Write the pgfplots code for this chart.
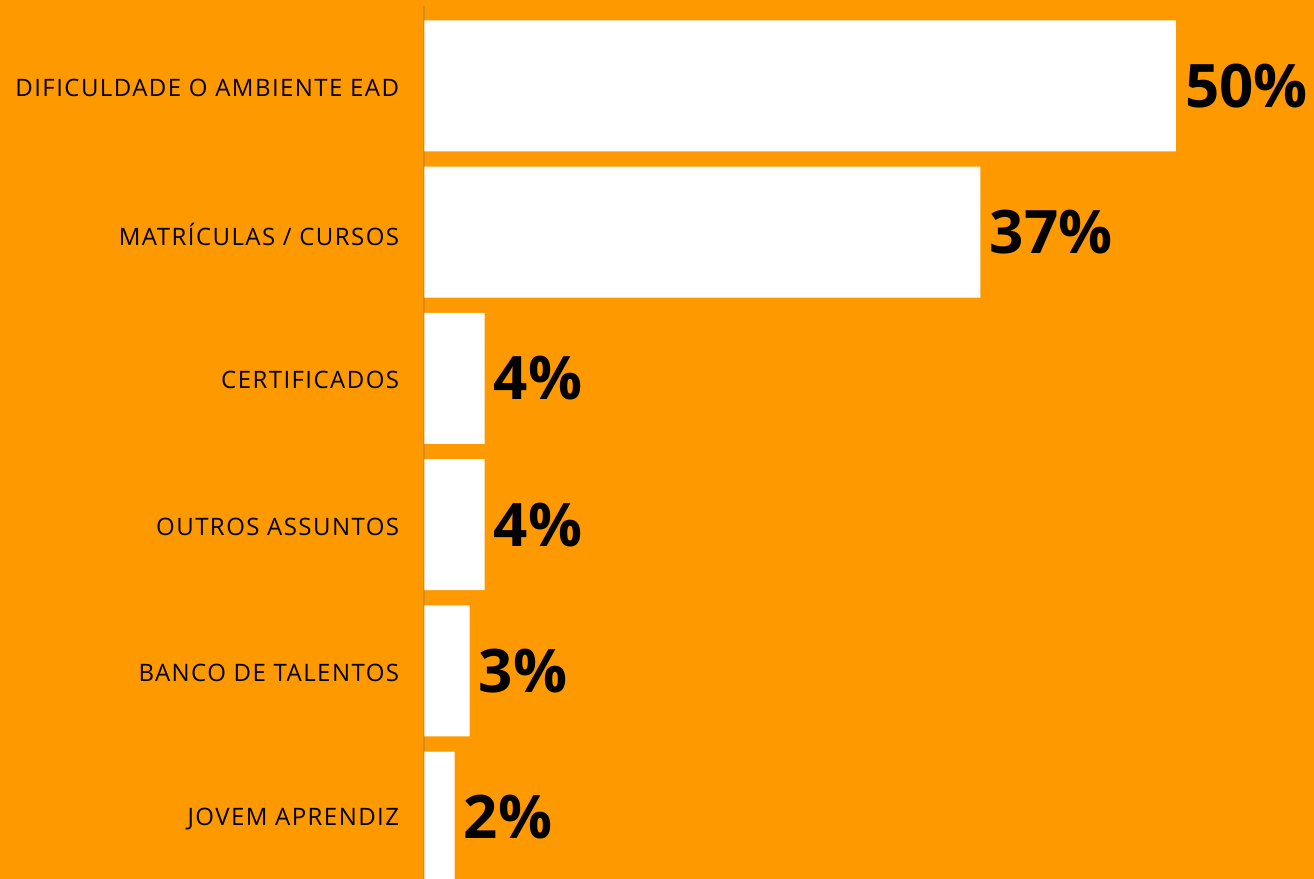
\documentclass[border=0pt]{standalone}
\usepackage{pgfplots}
\pgfplotsset{compat=1.18}
\usepackage{fontspec}
\setmainfont{Open Sans}
\newfontfamily\labfont[LetterSpace=6]{Open Sans}
\definecolor{bg}{HTML}{FF9900}
\definecolor{axl}{HTML}{D98A1C}
\begin{document}
\begin{tikzpicture}[x=1pt,y=1pt]
\fill[bg] (0,0) rectangle (657,439.5);
\begin{axis}[
  at={(212.25pt,0pt)}, anchor=south west,
  scale only axis, width=444.75pt, height=436.5pt,
  xmin=0, xmax=59.2, ymin=-0.547, ymax=5.424,
  y dir=reverse,
  axis x line=none,
  axis y line*=left,
  y axis line style={draw=axl, line width=1pt, -},
  major tick length=0pt,
  ytick={0,1,2,3,4,5},
  yticklabels={DIFICULDADE O AMBIENTE EAD, MATRÍCULAS / CURSOS, CERTIFICADOS, OUTROS ASSUNTOS, BANCO DE TALENTOS, JOVEM APRENDIZ},
  yticklabel style={anchor=east, inner sep=0pt, xshift=-12.5pt, yshift=-1pt, font=\labfont\fontsize{12}{14}\selectfont, text=black},
  xbar, bar width=65.5pt,
  nodes near coords={\pgfmathprintnumber[assume math mode=true]{\pgfplotspointmeta}\%},
  nodes near coords style={anchor=west, inner sep=0pt, xshift=4.5pt, font=\fontsize{30}{32}\selectfont\bfseries, text=black},
]
\addplot[fill=white, draw=none] coordinates {(50,0) (37,1) (4,2) (4,3) (3,4) (2,5)};
\end{axis}
\pgfresetboundingbox
\useasboundingbox (0,0) rectangle (657,439.5);
\end{tikzpicture}
\end{document}
